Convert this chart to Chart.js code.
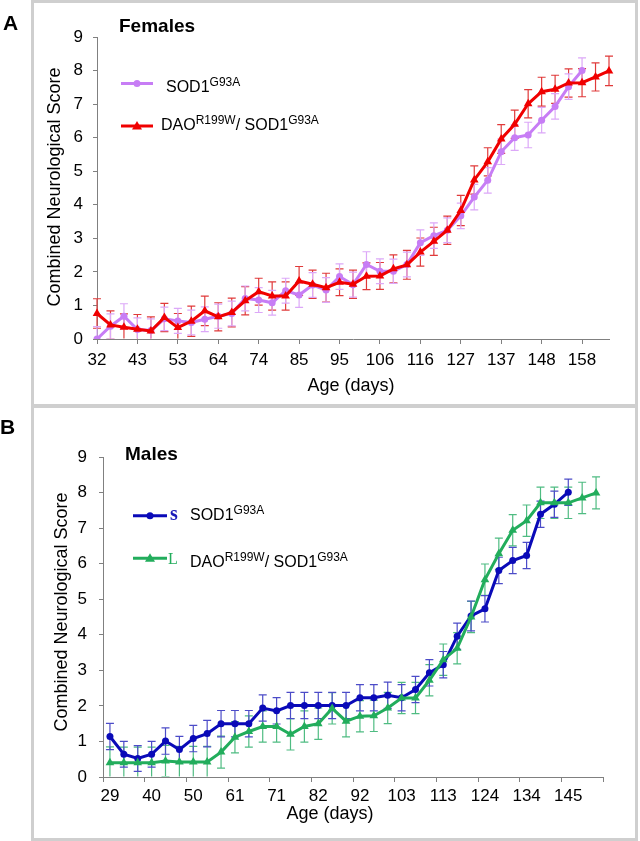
<!DOCTYPE html>
<html><head><meta charset="utf-8">
<script src="https://cdn.jsdelivr.net/npm/chart.js@4/dist/chart.umd.min.js"></script>
<style>
html,body{margin:0;padding:0;background:#fff;width:640px;height:841px;overflow:hidden;position:relative;}
.frame{position:absolute;border:3px solid #cfcfcf;box-sizing:border-box;}
#fa{left:31px;top:0;width:607px;height:408px;}
#fb{left:31px;top:404px;width:607px;height:437px;}
canvas{position:absolute;left:0;}
#ca{top:0;}
#cb{top:404px;}
</style></head><body>
<div class="frame" id="fa"></div><div class="frame" id="fb"></div>
<canvas id="ca" width="640" height="404"></canvas>
<canvas id="cb" width="640" height="437"></canvas>
<script>
// ---------- Panel A: Females ----------
const daysA = [32,35,39,43,46,50,53,57,60,64,67,71,74,78,81,85,88,92,95,99,102,106,109,113,116,120,123,127,130,134,137,141,144,148,151,155,158,162,165];
const sodA = [0,0.38,0.68,0.28,0.25,0.6,0.54,0.49,0.59,0.68,0.76,1.21,1.16,1.08,1.44,1.31,1.61,1.46,1.86,1.62,2.22,2.02,2.02,2.22,2.87,3.08,3.24,3.67,4.23,4.73,5.58,6.0,6.08,6.52,6.93,7.52,8.0];
const sodErrA = [0.37,0.37,0.37,0.35,0.35,0.35,0.37,0.37,0.37,0.36,0.37,0.37,0.37,0.37,0.37,0.37,0.37,0.37,0.38,0.37,0.38,0.37,0.36,0.37,0.38,0.38,0.37,0.38,0.38,0.38,0.38,0.38,0.38,0.38,0.38,0.38,0.38];
const daoA = [0.76,0.42,0.35,0.29,0.24,0.64,0.34,0.53,0.84,0.66,0.79,1.14,1.41,1.28,1.28,1.73,1.63,1.53,1.69,1.63,1.87,1.88,2.09,2.21,2.59,2.91,3.24,3.83,4.74,5.28,5.96,6.40,7.01,7.37,7.44,7.63,7.64,7.81,7.99];
const daoErrA = [0.44,0.42,0.4,0.44,0.42,0.42,0.42,0.45,0.44,0.42,0.43,0.42,0.4,0.42,0.42,0.43,0.42,0.43,0.4,0.42,0.4,0.4,0.42,0.43,0.42,0.42,0.42,0.45,0.42,0.42,0.43,0.42,0.42,0.43,0.42,0.42,0.42,0.42,0.44];

// ---------- Panel B: Males ----------
const daysB = [29,33,36,40,43,47,50,54,57,61,64,68,71,75,78,82,85,89,92,96,99,103,106,110,113,117,120,124,127,131,134,138,141,145,148,152];
const sodB = [1.14,0.64,0.52,0.64,1.01,0.77,1.08,1.22,1.50,1.50,1.50,1.94,1.86,2.01,2.01,2.01,2.01,2.01,2.23,2.23,2.30,2.23,2.46,2.93,3.16,3.96,4.53,4.73,5.81,6.09,6.23,7.39,7.67,8.01];
const sodErrB = [0.37,0.36,0.36,0.36,0.37,0.37,0.37,0.37,0.37,0.37,0.37,0.37,0.37,0.37,0.37,0.37,0.37,0.37,0.37,0.37,0.37,0.37,0.37,0.37,0.37,0.37,0.42,0.37,0.37,0.37,0.37,0.37,0.37,0.37];
const daoB = [0.40,0.40,0.40,0.40,0.45,0.42,0.42,0.42,0.70,1.12,1.28,1.42,1.42,1.20,1.42,1.50,1.93,1.57,1.71,1.72,1.94,2.22,2.22,2.72,3.30,3.62,4.50,5.55,6.28,6.94,7.21,7.71,7.71,7.71,7.85,7.99];
const daoErrB = [0.45,0.44,0.44,0.44,0.44,0.44,0.44,0.44,0.45,0.44,0.44,0.44,0.44,0.44,0.44,0.44,0.44,0.44,0.44,0.44,0.44,0.44,0.44,0.44,0.44,0.44,0.44,0.44,0.44,0.44,0.44,0.44,0.44,0.44,0.44,0.45];

const FONT = '"Liberation Sans", Arial, Helvetica, sans-serif';
const AXIS = '#808080';

const errorBars = {
  id: 'errorBars',
  beforeDatasetsDraw(chart) {
    const {ctx, chartArea: a, scales: {y}} = chart;
    ctx.save();
    ctx.beginPath();
    ctx.rect(a.left - 10, 0, a.right - a.left + 20, a.bottom - 0.5);
    ctx.clip();
    chart.data.datasets.forEach((ds, di) => {
      if (!ds.errors) return;
      const meta = chart.getDatasetMeta(di);
      ctx.strokeStyle = ds.errorColor;
      ctx.lineWidth = 1.2;
      ds.data.forEach((v, i) => {
        if (v == null) return;
        const e = ds.errors[i];
        const px = meta.data[i].x;
        const y1 = y.getPixelForValue(v + e), y2 = y.getPixelForValue(v - e);
        ctx.beginPath();
        ctx.moveTo(px, y1); ctx.lineTo(px, y2);
        ctx.moveTo(px - 4, y1); ctx.lineTo(px + 4, y1);
        ctx.moveTo(px - 4, y2); ctx.lineTo(px + 4, y2);
        ctx.stroke();
      });
    });
    ctx.restore();
  }
};

function rich(ctx, x, y, parts, color) {
  ctx.fillStyle = color || '#000';
  ctx.textBaseline = 'alphabetic';
  ctx.textAlign = 'left';
  parts.forEach(p => {
    ctx.font = (p.sup ? '12px ' : '16px ') + FONT;
    ctx.fillText(p.t, x, p.sup ? y - 6 : y);
    x += ctx.measureText(p.t).width;
  });
}
function legendLine(ctx, x1, x2, y, color, style) {
  ctx.save();
  ctx.strokeStyle = color; ctx.fillStyle = color; ctx.lineWidth = 3;
  ctx.beginPath(); ctx.moveTo(x1, y); ctx.lineTo(x2, y); ctx.stroke();
  const cx = (x1 + x2) / 2;
  ctx.beginPath();
  if (style === 'circle') { ctx.arc(cx, y, 3.5, 0, Math.PI * 2); }
  else { ctx.moveTo(cx, y - 5); ctx.lineTo(cx + 5, y + 3.5); ctx.lineTo(cx - 5, y + 3.5); ctx.closePath(); }
  ctx.fill();
  ctx.restore();
}
function vTitle(ctx, text, cx, cy) {
  ctx.save();
  ctx.translate(cx, cy); ctx.rotate(-Math.PI / 2);
  ctx.font = '18px ' + FONT; ctx.fillStyle = '#000';
  ctx.textAlign = 'center'; ctx.textBaseline = 'middle';
  ctx.fillText(text, 0, 0);
  ctx.restore();
}
function hText(ctx, text, cx, cy, font) {
  ctx.save();
  ctx.font = font; ctx.fillStyle = '#000';
  ctx.textAlign = 'center'; ctx.textBaseline = 'middle';
  ctx.fillText(text, cx, cy);
  ctx.restore();
}

const decoA = {
  id: 'decoA',
  afterDraw(chart) {
    const ctx = chart.ctx;
    ctx.save();
    ctx.fillStyle = '#000'; ctx.textAlign = 'left'; ctx.textBaseline = 'alphabetic';
    ctx.font = 'bold 21px ' + FONT; ctx.fillText('A', 3, 30);
    ctx.font = 'bold 19px ' + FONT; ctx.fillText('Females', 119, 31.5);
    ctx.restore();
    legendLine(ctx, 121, 153, 83.5, '#c77df5', 'circle');
    rich(ctx, 166, 92, [{t: 'SOD1'}, {t: 'G93A', sup: true}]);
    legendLine(ctx, 121, 153, 126, '#f00000', 'triangle');
    rich(ctx, 161, 130, [{t: 'DAO'}, {t: 'R199W', sup: true}, {t: '/ SOD1'}, {t: 'G93A', sup: true}]);
    vTitle(ctx, 'Combined Neurological Score', 55, 187);
    hText(ctx, 'Age (days)', 351, 386, '18px ' + FONT);
  }
};
const decoB = {
  id: 'decoB',
  afterDraw(chart) {
    const ctx = chart.ctx;
    const o = 404;
    ctx.save();
    ctx.fillStyle = '#000'; ctx.textAlign = 'left'; ctx.textBaseline = 'alphabetic';
    ctx.font = 'bold 21px ' + FONT; ctx.fillText('B', 0, 434 - o);
    ctx.font = 'bold 19px ' + FONT; ctx.fillText('Males', 125, 460 - o);
    ctx.fillStyle = '#1a1ab8'; ctx.font = 'bold 20px "Liberation Serif", "DejaVu Serif", serif';
    ctx.fillText('s', 170, 520 - o);
    ctx.fillStyle = '#22ad5c'; ctx.font = '16px "Liberation Serif", "DejaVu Serif", serif';
    ctx.fillText('L', 168, 564 - o);
    ctx.restore();
    legendLine(ctx, 133, 167, 515.7 - o, '#0a0ab8', 'circle');
    rich(ctx, 190, 520 - o, [{t: 'SOD1'}, {t: 'G93A', sup: true}]);
    legendLine(ctx, 133, 167, 558.3 - o, '#22ad5c', 'triangle');
    rich(ctx, 190, 567 - o, [{t: 'DAO'}, {t: 'R199W', sup: true}, {t: '/ SOD1'}, {t: 'G93A', sup: true}]);
    vTitle(ctx, 'Combined Neurological Score', 62, 612 - o);
    hText(ctx, 'Age (days)', 330, 814 - o, '18px ' + FONT);
  }
};

function every3(c) { return (c.index === undefined || c.index % 3 === 0) ? AXIS : 'rgba(0,0,0,0)'; }

function makeOptions(cfg) {
  return {
    responsive: false,
    animation: false,
    events: [],
    layout: {padding: cfg.padding},
    plugins: {legend: {display: false}, tooltip: {enabled: false}, title: {display: false}},
    scales: {
      x: {
        type: 'category',
        offset: cfg.offset,
        grid: {drawOnChartArea: false, drawTicks: true, tickLength: 5, offset: cfg.offset, tickColor: every3, color: every3},
        border: {display: true, color: AXIS, width: 1},
        ticks: {
          autoSkip: false, maxRotation: 0, minRotation: 0, padding: cfg.xPad, color: '#000',
          font: {family: FONT, size: 17},
          callback: function (v, i) { return i % 3 === 0 ? this.getLabelForValue(v) : ''; }
        },
        afterFit: s => { s.height = cfg.xHeight; }
      },
      y: {
        min: 0, max: 9,
        grid: {drawOnChartArea: false, drawTicks: true, tickLength: 4, tickColor: AXIS},
        border: {display: true, color: AXIS, width: 1},
        ticks: {stepSize: 1, padding: cfg.yPad, color: '#000', font: {family: FONT, size: 17}},
        afterFit: s => { s.width = cfg.yWidth; }
      }
    }
  };
}

new Chart(document.getElementById('ca'), {
  type: 'line',
  data: {
    labels: daysA,
    datasets: [
      {label: 'DAO R199W / SOD1 G93A', data: daoA, errors: daoErrA, errorColor: '#e03a3a',
       borderColor: '#f00000', backgroundColor: '#f00000', borderWidth: 3, tension: 0,
       pointStyle: 'triangle', pointRadius: 5, pointBorderWidth: 0, pointBackgroundColor: '#f00000'},
      {label: 'SOD1 G93A', data: sodA, errors: sodErrA, errorColor: '#dca8f8',
       borderColor: '#c77df5', backgroundColor: '#c77df5', borderWidth: 3, tension: 0,
       pointStyle: 'circle', pointRadius: 3.5, pointBorderWidth: 0, pointBackgroundColor: '#c77df5'}
    ]
  },
  options: makeOptions({padding: {left: 0, right: 31, top: 37, bottom: 0}, offset: false, xPad: 6, yPad: 10, xHeight: 65, yWidth: 97}),
  plugins: [errorBars, decoA]
});

new Chart(document.getElementById('cb'), {
  type: 'line',
  data: {
    labels: daysB,
    datasets: [
      {label: 'DAO R199W / SOD1 G93A', data: daoB, errors: daoErrB, errorColor: '#4fbc82',
       borderColor: '#22ad5c', backgroundColor: '#22ad5c', borderWidth: 3, tension: 0,
       pointStyle: 'triangle', pointRadius: 5, pointBorderWidth: 0, pointBackgroundColor: '#22ad5c'},
      {label: 'SOD1 G93A', data: sodB, errors: sodErrB, errorColor: '#4c4cc8',
       borderColor: '#0a0ab8', backgroundColor: '#0a0ab8', borderWidth: 3, tension: 0,
       pointStyle: 'circle', pointRadius: 3.5, pointBorderWidth: 0, pointBackgroundColor: '#0a0ab8'}
    ]
  },
  options: makeOptions({padding: {left: 0, right: 37, top: 53, bottom: 0}, offset: true, xPad: 4, yPad: 12, xHeight: 64, yWidth: 103}),
  plugins: [errorBars, decoB]
});
</script>
</body></html>
